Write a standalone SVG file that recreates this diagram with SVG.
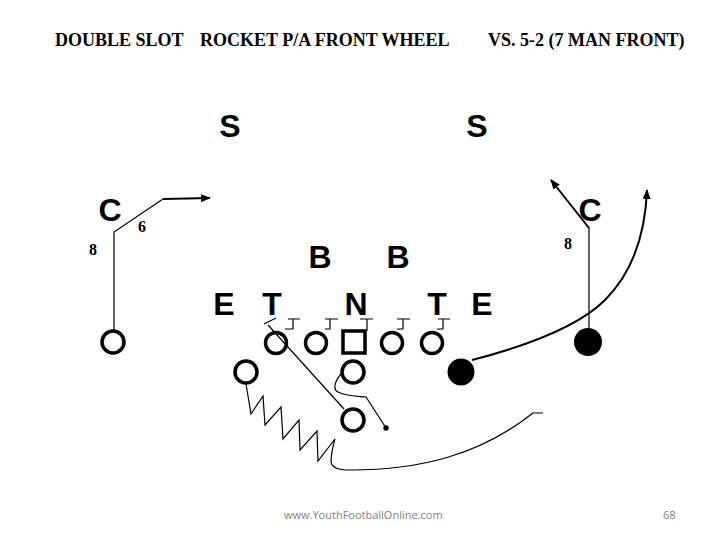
<svg xmlns="http://www.w3.org/2000/svg" width="720" height="540" viewBox="0 0 720 540">
<defs>
<style>
.title{font-family:"Liberation Serif","Times New Roman",serif;font-weight:bold;font-size:18px;fill:#000}
.num{font-family:"Liberation Serif","Times New Roman",serif;font-weight:bold;font-size:16px;fill:#000}
.def{font-family:"Liberation Sans",Arial,sans-serif;font-weight:bold;font-size:32px;fill:#000;text-anchor:middle}
.foot{font-family:"Open Sans","Liberation Sans",sans-serif;font-size:11px;fill:#808080}
.pl{fill:none;stroke:#000;stroke-width:3.5}
.pf{fill:#000;stroke:none}
.thin{fill:none;stroke:#000;stroke-width:1.2}
.thick{fill:none;stroke:#000;stroke-width:2}
</style>
<marker id="ah" viewBox="0 0 10 8" refX="9" refY="4" markerWidth="10" markerHeight="8" markerUnits="userSpaceOnUse" orient="auto">
<path d="M0,0 L10,4 L0,8 Z" fill="#000"/>
</marker>
</defs>
<rect width="720" height="540" fill="#fff"/>
<g id="title">
<text class="title" x="55" y="46">DOUBLE SLOT</text>
<text class="title" x="200" y="46">ROCKET P/A FRONT WHEEL</text>
<text class="title" x="488" y="46">VS. 5-2 (7 MAN FRONT)</text>
</g>
<g id="defense">
<g id="def-s1"><text class="def" x="230" y="137">S</text></g>
<g id="def-s2"><text class="def" x="477" y="137">S</text></g>
<g id="def-c1"><text class="def" x="110" y="221">C</text></g>
<g id="def-c2"><text class="def" x="590" y="221">C</text></g>
<g id="def-b1"><text class="def" x="320" y="268">B</text></g>
<g id="def-b2"><text class="def" x="398" y="268">B</text></g>
<g id="def-e1"><text class="def" x="224" y="315">E</text></g>
<g id="def-t1"><text class="def" x="272" y="315">T</text></g>
<g id="def-n"><text class="def" x="356" y="315">N</text></g>
<g id="def-t2"><text class="def" x="437" y="315">T</text></g>
<g id="def-e2"><text class="def" x="482" y="315">E</text></g>
</g>
<g id="connectors">
<path class="thin" d="M114,330 L114,232 L163,199"/>
<path class="thick" d="M163,199 L210,198" marker-end="url(#ah)"/>
<path class="thin" d="M589,328 L589,228"/>
<path class="thick" d="M589,228 L551,180" marker-end="url(#ah)"/>
<path class="thick" d="M472,360 C530,345 580,325 605,300 C630,275 645,240 647,190" marker-end="url(#ah)"/>
<path class="thin" d="M285,329 L293,329 L293,319 M288,319 L300,319"/>
<path class="thin" d="M325,329 L330,329 L330,319 M325,319 L338,319"/>
<path class="thin" d="M367,331 L367,319 M360,319 L373,319"/>
<path class="thin" d="M397,329 L403,329 L403,319 M397,319 L410,319"/>
<path class="thin" d="M437,329 L443,329 L443,319 M438,319 L450,319"/>
<path class="thin" d="M264,324 L276,318"/>
<path class="thin" d="M268,325 L344,409"/>
<path class="thin" d="M341,374 C334,382 333,390 338,392 C345,396 355,396 366,397 L386,428"/>
<circle class="pf" cx="386" cy="428" r="2.7"/>
<path class="thin" d="M246,384 L251,414 L263,396 L265,425 L281,407 L283,439 L299,420 L300,450 L317,431 L318,461 L335,439 C333,446 331,455 331,462 C332,468 338,470 350,470 C420,470 480,455 533,413 L543,413"/>
</g>
<g id="nums">
<text class="num" x="138" y="232">6</text>
<text class="num" x="89" y="255">8</text>
<text class="num" x="564" y="249">8</text>
</g>
<g id="offense">
<g id="wr-left"><circle class="pl" cx="113" cy="342" r="11"/></g>
<g id="lt"><circle class="pl" cx="276" cy="343" r="10.5"/></g>
<g id="lg"><circle class="pl" cx="316" cy="343" r="10.5"/></g>
<g id="center"><rect class="pl" x="343" y="331" width="22" height="22"/></g>
<g id="rg"><circle class="pl" cx="392" cy="343" r="10.5"/></g>
<g id="rt"><circle class="pl" cx="432" cy="343" r="10.5"/></g>
<g id="back-left"><circle class="pl" cx="246" cy="372" r="11"/></g>
<g id="qb"><circle class="pl" cx="353" cy="372" r="11"/></g>
<g id="fb"><circle class="pl" cx="353" cy="420" r="11"/></g>
<g id="te"><circle class="pf" cx="461" cy="372" r="13.5"/></g>
<g id="wr-right"><circle class="pf" cx="588" cy="342" r="14"/></g>
</g>
<g id="footer">
<text class="foot" x="284" y="519">www.YouthFootballOnline.com</text>
<text class="foot" x="663" y="519">68</text>
</g>
</svg>
